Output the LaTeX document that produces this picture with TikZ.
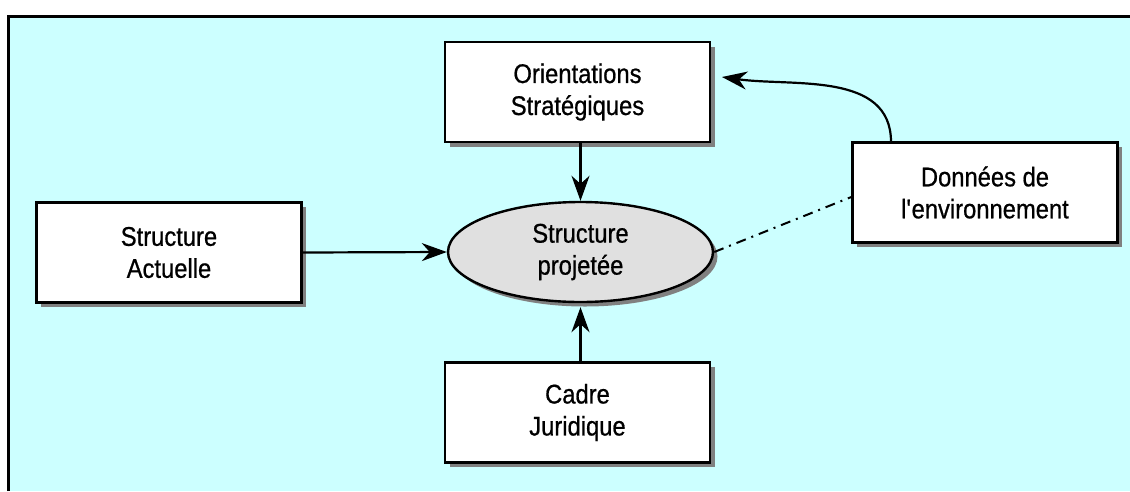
\documentclass[tikz,border=0pt]{standalone}
\usepackage{fontspec}
\setmainfont{Liberation Sans}[FakeStretch=0.88, FakeBold=0.7]
\usetikzlibrary{arrows.meta,shadows,shapes.geometric}
\definecolor{bgcyan}{RGB}{204,255,255}
\definecolor{shadowgray}{RGB}{128,128,128}
\definecolor{ellgray}{RGB}{224,224,224}
\tikzset{
  boxnode/.style={draw=black, line width=2.4pt, fill=white, minimum width=265pt, minimum height=100pt,
    inner sep=0pt, align=center, font=\fontsize{27}{32}\selectfont,
    drop shadow={shadow xshift=4.5pt, shadow yshift=-4.5pt, fill=shadowgray, opacity=1}},
  ellnode/.style={ellipse, draw=black, line width=2.4pt, fill=ellgray, minimum width=265pt, minimum height=100pt,
    inner sep=0pt, align=center, font=\fontsize{27}{32}\selectfont,
    drop shadow={shadow xshift=4.5pt, shadow yshift=-4.5pt, fill=shadowgray, opacity=1}},
  arr/.style={line width=2.2pt, -{Stealth[length=25pt, width=18pt, inset=8pt]}},
  dashdotline/.style={line width=2pt, dash pattern=on 10pt off 6pt on 2pt off 6pt}
}
\begin{document}
\begin{tikzpicture}[x=1pt, y=-1pt]
\useasboundingbox (0,0) rectangle (1130,491);
\fill[white] (0,0) rectangle (1130,491);
\fill[bgcyan] (7,15) rectangle (1130,491);
\draw[line width=3pt, line join=miter] (8.5,491) -- (8.5,16.5) -- (1130,16.5);

\node[boxnode] (ori) at (577.5,92) {Orientations\\Stratégiques};
\node[boxnode] (act) at (169,252.5) {Structure\\Actuelle};
\node[boxnode] (don) at (985,192.5) {Données de\\l\textquotesingle environnement};
\node[boxnode] (cad) at (577.5,412.5) {Cadre\\Juridique};
\node[ellnode] (ell) at (580.5,252) {Structure\\projetée};

\coordinate (donTop) at (891,142);
\coordinate (oriTip) at (722,77);

\draw[arr] (ori.south -| ell.north) -- (ell.north);
\draw[arr] (act.east) -- (ell.west);
\draw[arr] (cad.north -| ell.south) -- ([yshift=-4pt]ell.south);
\draw[arr] (donTop) to[out=90, in=-8] (oriTip);
\draw[dashdotline] (ell.east) -- ([yshift=-4.5pt]don.west);
\end{tikzpicture}
\end{document}
